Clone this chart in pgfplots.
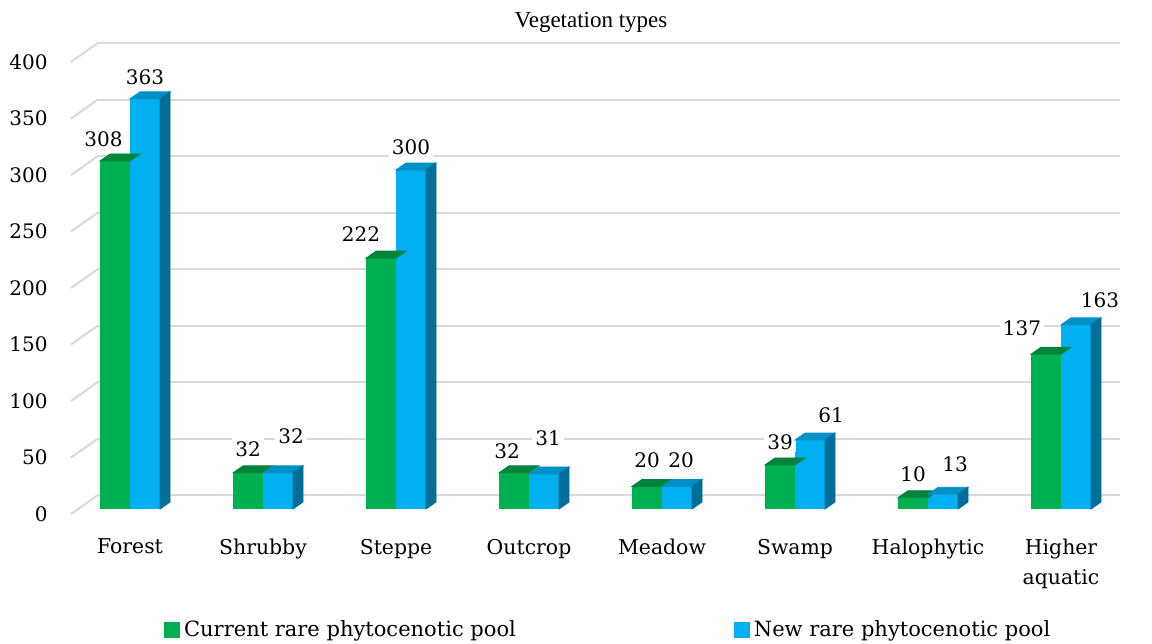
\documentclass[border=0pt]{standalone}
\usepackage{fontspec}
\setmainfont{DejaVu Serif}
\newfontfamily\titlefont{Liberation Serif}
\usepackage{pgfplots}
\usepackage{pgfplotstable}
\pgfplotsset{compat=1.18}
\definecolor{cgreen}{HTML}{00B050}
\definecolor{cgreentop}{HTML}{00843C}
\definecolor{cblue}{HTML}{00B0F0}
\definecolor{cbluetop}{HTML}{0090C8}
\definecolor{cblueside}{HTML}{006E96}
\definecolor{gridgray}{HTML}{D9D9D9}

\pgfplotstableread{
x y dx dy
0 308 -5.75 11
1 32 0 12
2 222 -10 12
3 32 -3.5 11
4 20 0 13
5 39 0 11.5
6 10 0 11.5
7 137 -12 13
}\greendata
\pgfplotstableread{
x y dx dy
0 363 0 11
1 32 6.5 18.5
2 300 0 11.5
3 31 2 18
4 20 2 13
5 61 10.5 12.5
6 13 6 15
7 163 12 12.5
}\bluedata

\begin{document}
\begin{tikzpicture}
\useasboundingbox (0,0) rectangle (576pt,321.5pt);
\begin{axis}[
  at={(39pt,67pt)}, anchor=south west,
  width=511pt, height=226pt, scale only axis,
  xmin=-0.391, xmax=7.293, ymin=0, ymax=400,
  clip=false,
  /pgf/number format/assume math mode=true,
  axis line style={draw=none},
  tick style={draw=none},
  major tick length=0pt,
  ytick={0,50,...,400},
  xtick={0,...,7},
  xticklabels={Forest,Shrubby,Steppe,Outcrop,Meadow,Swamp,Halophytic,{Higher\\aquatic}},
  xticklabel style={align=center, font=\fontsize{10.2}{15}\selectfont, yshift=-11.5pt},
  yticklabel style={font=\fontsize{10}{12}\selectfont, xshift=-11.7pt, yshift=-2.5pt},
  ymajorgrids,
  major grid style={draw=gridgray, line width=1pt, xshift=10pt, yshift=7pt},
  title={\titlefont Vegetation types},
  title style={at={(0.502,1.077)}, anchor=center, yshift=-6pt, font=\fontsize{11.5}{13}\selectfont},
  legend columns=2,
  legend style={at={(0.512,-0.268)}, anchor=center, xshift=4pt, draw=none,
    font=\fontsize{10.5}{12}\selectfont,
    /tikz/every even column/.append style={column sep=107pt}},
  legend image code/.code={\fill[#1] (0pt,-4pt) rectangle (8pt,4pt);},
]
\pgfplotsinvokeforeach{0,50,...,400}{
  \draw[gridgray, line width=1pt] ([xshift=-3.5pt,yshift=-2.5pt]axis cs:-0.391,#1) -- ([xshift=10pt,yshift=7pt]axis cs:-0.391,#1);
}
% green front faces
\addplot[ybar, bar width=15pt, bar shift=-7.5pt, fill=cgreen, draw=none,
  nodes near coords,
  visualization depends on={\thisrow{dx} \as \dx},
  visualization depends on={\thisrow{dy} \as \dy},
  every node near coord/.append style={anchor=center, xshift=-7.5pt, xshift=\dx, yshift=\dy,
    fill=white, inner sep=1.5pt, text=black, font=\fontsize{10}{12}\selectfont}
] table[x=x,y=y] {\greendata};
\addlegendentry{Current rare phytocenotic pool}
% green top faces
\addplot[forget plot, scatter, only marks, mark=*, mark size=0pt,
  mark options={draw=none,fill=none},
  visualization depends on={\thisrow{y} \as \rawy},
  scatter/@pre marker code/.code={
    \fill[cgreentop] (-15pt,0pt) -- (0pt,0pt) -- (5pt,3.5pt) -- (-10pt,3.5pt) -- cycle;
  },
  scatter/@post marker code/.code={}
] table[x=x,y=y] {\greendata};
% blue front faces
\addplot[ybar, bar width=15pt, bar shift=7.5pt, fill=cblue, draw=none,
  nodes near coords,
  visualization depends on={\thisrow{dx} \as \dx},
  visualization depends on={\thisrow{dy} \as \dy},
  every node near coord/.append style={anchor=center, xshift=7.5pt, xshift=\dx, yshift=\dy,
    fill=white, inner sep=1.5pt, text=black, font=\fontsize{10}{12}\selectfont}
] table[x=x,y=y] {\bluedata};
\addlegendentry{New rare phytocenotic pool}
% blue top and side faces
\addplot[forget plot, scatter, only marks, mark=*, mark size=0pt,
  mark options={draw=none,fill=none},
  visualization depends on={\thisrow{y} \as \rawy},
  scatter/@pre marker code/.code={
    \fill[cbluetop] (0pt,0pt) -- (15pt,0pt) -- (20pt,3.5pt) -- (5pt,3.5pt) -- cycle;
    \fill[cblueside] (15pt,0pt) -- (20pt,3.5pt) -- (20pt,{3.5pt-\rawy*0.565pt}) -- (15pt,{-\rawy*0.565pt}) -- cycle;
  },
  scatter/@post marker code/.code={}
] table[x=x,y=y] {\bluedata};
\end{axis}
\end{tikzpicture}
\end{document}
